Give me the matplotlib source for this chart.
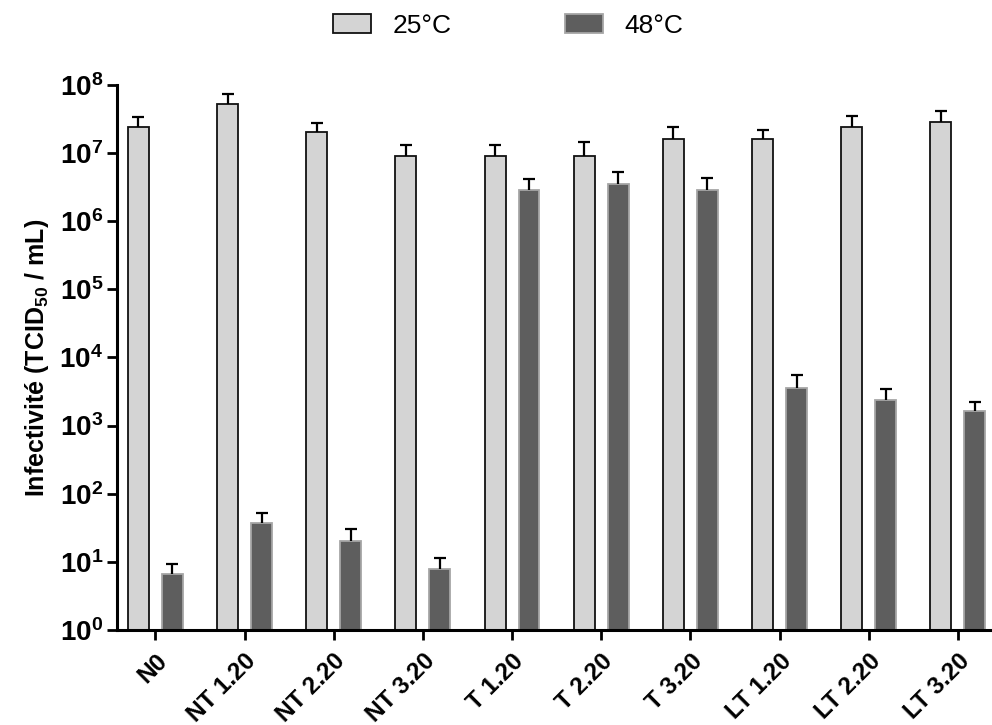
import matplotlib
matplotlib.use("Agg")
import matplotlib.pyplot as plt
from matplotlib.ticker import FixedLocator, NullLocator, FuncFormatter
import numpy as np

plt.rcParams['font.family'] = ['Liberation Sans', 'DejaVu Sans']
plt.rcParams['mathtext.fontset'] = 'custom'
plt.rcParams['mathtext.rm'] = 'Liberation Sans:bold'
plt.rcParams['mathtext.bf'] = 'Liberation Sans:bold'
plt.rcParams['mathtext.it'] = 'Liberation Sans:bold'

# données
echantillons = ["N0", "NT 1.20", "NT 2.20", "NT 3.20", "T 1.20", "T 2.20",
                "T 3.20", "LT 1.20", "LT 2.20", "LT 3.20"]
inf_25 = np.array([2.4e7, 5.2e7, 2.0e7, 9.1e6, 9.1e6, 9.1e6,
                   1.62e7, 1.62e7, 2.41e7, 2.88e7])
sd_25 = np.array([1.0e7, 2.2e7, 0.8e7, 4.0e6, 4.0e6, 5.2e6,
                  0.79e7, 0.53e7, 1.04e7, 1.30e7])
inf_48 = np.array([6.6, 36.8, 20.5, 7.9, 2.89e6, 3.54e6,
                   2.89e6, 3580, 2385, 1660])
sd_48 = np.array([2.8, 16.0, 9.9, 3.5, 1.3e6, 1.66e6,
                  1.45e6, 2030, 1075, 550])
ticks_y = [10.0 ** k for k in range(0, 9)]

x = np.arange(len(echantillons))
larg = 0.235
dx = 0.19

fig = plt.figure(figsize=(9.92, 7.25), dpi=100)
ax = fig.add_axes([0.118, 0.131, 0.880, 0.752])

b25 = ax.bar(x - dx, inf_25, width=larg, color='#d4d4d4', edgecolor='#111111',
             linewidth=1.3, label='25°C', zorder=2)
b48 = ax.bar(x + dx, inf_48, width=larg, color='#5e5e5e', edgecolor='#a6a6a6',
             linewidth=1.3, label='48°C', zorder=2)

for xs, v, e in [(x - dx, inf_25, sd_25), (x + dx, inf_48, sd_48)]:
    _, caps, _ = ax.errorbar(xs, v, yerr=[np.zeros_like(e), e], fmt='none',
                             ecolor='black', elinewidth=1.6, capsize=4,
                             capthick=1.6, zorder=3)
    caps[0].set_visible(False)  # pas de chapeau en bas

ax.set_yscale('log')
ax.set_ylim(1, 1e8)
ax.set_xlim(-0.43, 9.36)
ax.yaxis.set_major_locator(FixedLocator(ticks_y))
ax.yaxis.set_minor_locator(NullLocator())
ax.yaxis.set_major_formatter(FuncFormatter(
    lambda v, p: r'$\mathbf{10^{%d}}$' % round(np.log10(v))))

ax.set_xticks(x)
ax.set_xticklabels(echantillons, rotation=45, ha='right',
                   rotation_mode='anchor', fontweight='bold', fontsize=17.5)

for s in ['top', 'right']:
    ax.spines[s].set_visible(False)
for s in ['left', 'bottom']:
    ax.spines[s].set_linewidth(2.2)

ax.tick_params(axis='y', which='major', length=7, width=2, labelsize=20, pad=3)
ax.tick_params(axis='x', which='major', length=7, width=2, pad=7)

ax.set_ylabel(r'Infectivité (TCID$_{\mathbf{50}}$ / mL)', fontweight='bold',
              fontsize=18, labelpad=6)

ax.legend(handles=[b25, b48], loc='center', bbox_to_anchor=(0.448, 1.108),
          ncol=2, frameon=False, fontsize=19, handlelength=1.45,
          handleheight=0.7, columnspacing=4.3, handletextpad=0.8)

plt.savefig('out.png', dpi=100)
